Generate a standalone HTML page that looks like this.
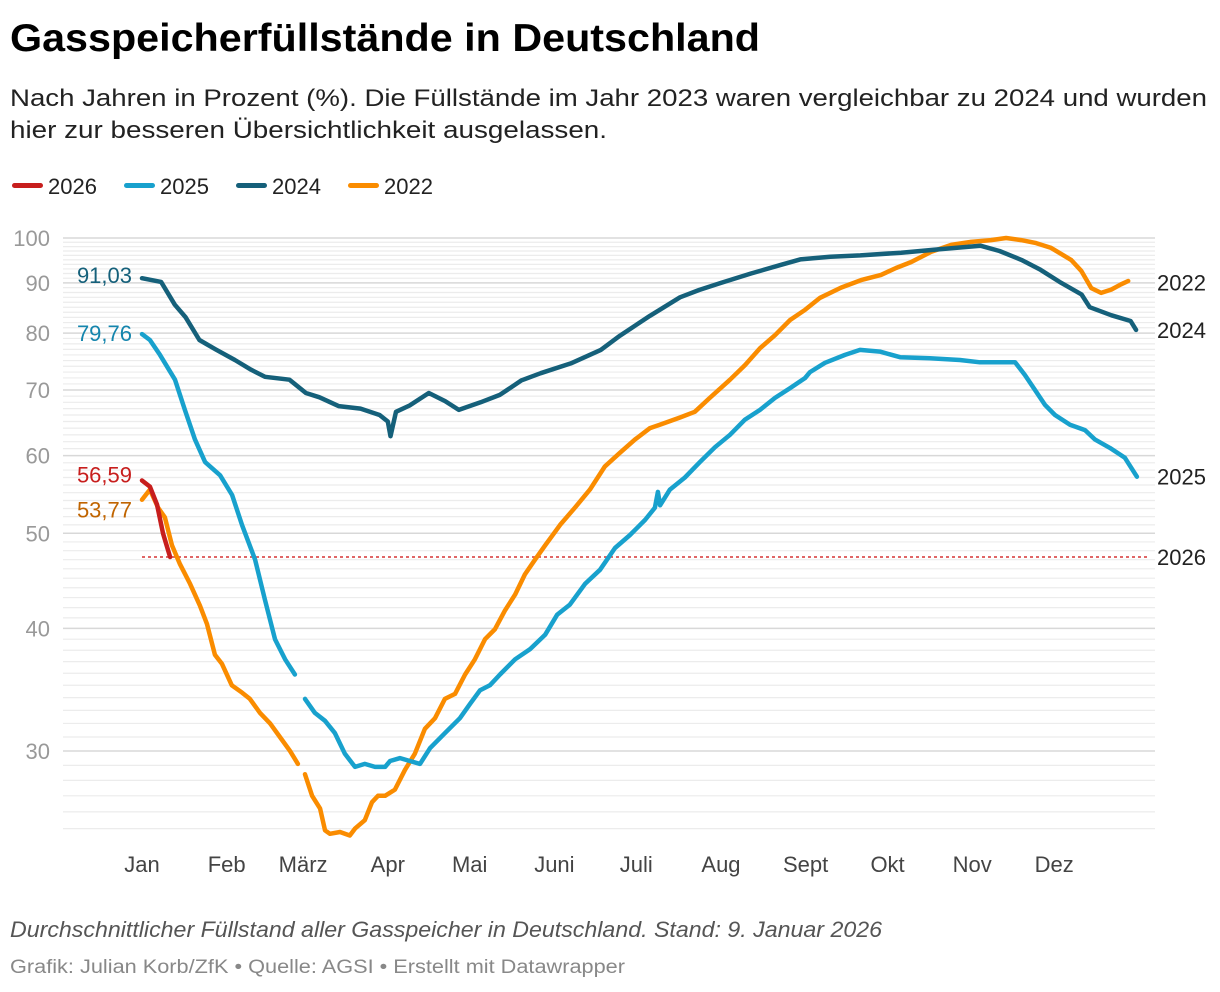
<!DOCTYPE html>
<html><head><meta charset="utf-8"><style>
html,body{margin:0;padding:0;background:#fff;}
svg{display:block;font-family:"Liberation Sans",sans-serif;}
</style></head><body>
<svg id="chart" width="1220" height="992" viewBox="0 0 1220 992">
<text x="10" y="51" font-size="39" font-weight="bold" fill="#000" textLength="750" lengthAdjust="spacingAndGlyphs">Gasspeicherfüllstände in Deutschland</text>
<text x="10" y="106" font-size="24" fill="#222" textLength="1197" lengthAdjust="spacingAndGlyphs">Nach Jahren in Prozent (%). Die Füllstände im Jahr 2023 waren vergleichbar zu 2024 und wurden</text>
<text x="10" y="138" font-size="24" fill="#222" textLength="597" lengthAdjust="spacingAndGlyphs">hier zur besseren Übersichtlichkeit ausgelassen.</text>
<g id="legend"></g>
<g id="grid"></g>
<g id="yaxis"></g>
<g id="xaxis"></g>
<g id="series"></g>
<g id="labels"></g>
<text x="10" y="937" font-size="22" font-style="italic" fill="#555" textLength="872" lengthAdjust="spacingAndGlyphs">Durchschnittlicher Füllstand aller Gasspeicher in Deutschland. Stand: 9. Januar 2026</text>
<text x="10" y="973" font-size="19" fill="#888" textLength="615" lengthAdjust="spacingAndGlyphs">Grafik: Julian Korb/ZfK • Quelle: AGSI • Erstellt mit Datawrapper</text>
</svg>
<script>
const yTicks = [100, 90, 80, 70, 60, 50, 40, 30];
const monthLabels = ["Jan","Feb","März","Apr","Mai","Juni","Juli","Aug","Sept","Okt","Nov","Dez"];
const monthStartDays = [0,31,59,90,120,151,181,212,243,273,304,334];
const seriesNames = ["2026","2025","2024","2022"];
const refLine2026 = 47.3;
const days2026 = [0,2.9,5.5,7.7,10.3];
const vals2026 = [56.6,55.8,53.5,50.0,47.3];
const days2025 = [0,2.9,6.6,12.1,15.7,19.4,23.1,28.6,33,36.6,41.4,45,48.7,52.4,56,58,59.7,63.3,67,70.6,74.3,78,81.6,85.3,89,90.8,94.5,98.1,101.8,105.5,111,116.4,120.1,123.8,127.4,131.1,136.6,142.1,147.6,152,156.7,162.2,167.7,173.2,178.7,184.2,187.8,188.9,189.7,193.3,198.8,204.3,209.8,215.3,220.8,226.3,231.8,237.3,242.8,244.6,250.1,257.4,262.9,270.2,277.6,288.5,299.5,306.8,314.2,319.7,323.3,327,330.6,334.3,339.8,345.3,349,354.4,359.9,364.3];
const vals2025 = [79.8,78.7,76.0,71.7,66.8,62.3,59.1,57.3,54.7,51.0,47.0,42.8,39.0,37.2,35.9,null,33.9,32.8,32.2,31.3,29.8,28.9,29.1,28.9,28.9,29.3,29.5,29.3,29.1,30.2,31.3,32.4,33.5,34.6,35.0,35.9,37.2,38.1,39.4,41.3,42.3,44.4,45.9,48.3,49.8,51.6,53.1,55.1,53.4,55.4,57.0,59.1,61.2,63.0,65.3,66.8,68.7,70.3,72.0,73.0,74.6,76.0,76.9,76.6,75.6,75.4,75.1,74.7,74.7,74.7,72.5,70.0,67.6,66.0,64.5,63.7,62.3,61.1,59.7,57.1];
const days2024 = [0,7,12,16,21,27,34,40,45,54,60,65,72,80,87,90,91,93,98,105,111,116,124,131,139,146,157,168,175,186,197,204,212,223,234,241,252,263,278,292,307,314,322,329,336,344,347,355,362,364];
const vals2024 = [91.0,90.2,85.5,83.0,78.7,77.0,75.1,73.4,72.2,71.7,69.5,68.8,67.4,67.0,66.0,65.0,62.8,66.5,67.5,69.5,68.2,66.8,68.0,69.2,71.6,72.8,74.5,76.9,79.5,83.3,87.0,88.5,90.0,92.0,93.9,95.1,95.7,96.0,96.6,97.4,98.2,97.0,95.0,92.8,90.2,87.6,85.0,83.4,82.3,80.6];
const days2022 = [0,2.9,5.9,8.4,11,13.9,17.6,21.2,23.8,26.7,29.3,32.9,36.6,39.5,43.2,46.9,50.5,54.2,57.1,58.5,59.7,62.3,65.2,67,68.8,72.5,76.1,78,81.6,84.2,86.4,89,92.6,96.3,99.9,103.6,107.3,110.9,114.6,118.3,121.9,125.6,129.2,132.9,136.6,140.2,143.9,147.6,153.1,158.5,164,169.5,175,180.5,186,189.6,196.9,202.4,207.9,215.3,220.8,226.3,231.8,237.3,242.8,248.3,256,263.3,270.6,276.1,281.6,288.9,296.3,303.6,310.9,316.4,321.9,327.4,332.9,340.2,343.9,347.6,351.2,354.9,358.5,361.1];
const vals2022 = [54.1,55.4,53.1,51.9,48.6,46.5,44.4,42.2,40.4,37.6,36.8,35.0,34.4,33.9,32.8,32.0,31.0,30.0,29.1,null,28.4,27.0,26.2,24.9,24.7,24.8,24.6,25.0,25.5,26.6,27.0,27.0,27.4,28.7,29.8,31.6,32.4,33.9,34.3,35.9,37.2,39.0,39.9,41.7,43.3,45.4,47.0,48.6,51.0,53.1,55.4,58.5,60.4,62.3,64.0,64.5,65.6,66.5,68.7,71.7,74.2,77.2,79.6,82.5,84.5,86.9,89.0,90.6,91.7,93.2,94.5,96.8,98.4,99.1,99.5,100,99.5,98.8,97.7,95.0,92.6,88.9,87.9,88.6,89.7,90.4];
const colors = {"2026":"#c71e1d","2025":"#18a1cd","2024":"#15607a","2022":"#fa8c00"};

const NS="http://www.w3.org/2000/svg";
const X0=142, PXD=2.731;
const x=d=>X0+d*PXD;
const y=v=>238+981*Math.log10(100/v);
function mk(tag,attrs,parent,txt){const e=document.createElementNS(NS,tag);for(const k in attrs)e.setAttribute(k,attrs[k]);if(txt!=null)e.textContent=txt;parent.appendChild(e);return e;}

const grid=document.getElementById('grid');
for(let v=25;v<=100;v++){
  const major=v%10===0;
  const ln=mk('line',{x1:63,x2:1155,y1:y(v),y2:y(v),stroke:major?'#d8d8d8':'#ececec','stroke-width':major?1.5:1.2},grid);
  
  
}
const ya=document.getElementById('yaxis');
yTicks.forEach(v=>{const t=mk('text',{x:50,y:y(v)+8,'text-anchor':'end','font-size':22,fill:'#999'},ya,String(v));
  
  });
const xa=document.getElementById('xaxis');
monthLabels.forEach((m,i)=>{const t=mk('text',{x:x(monthStartDays[i]),y:872,'text-anchor':'middle','font-size':22,fill:'#444'},xa,m);
  
  });

const ser=document.getElementById('series');
const ref=mk('line',{x1:142,x2:1148,y1:y(refLine2026),y2:y(refLine2026),stroke:'#d63333','stroke-width':1.5,'stroke-dasharray':'3,3'},ser);



function pathOf(days,vals){let d='',pen=false;for(let i=0;i<days.length;i++){if(vals[i]==null){pen=false;continue;}d+=(pen?'L':'M')+x(days[i]).toFixed(1)+','+y(vals[i]).toFixed(1);pen=true;}return d;}
const data={"2022":[days2022,vals2022],"2024":[days2024,vals2024],"2025":[days2025,vals2025],"2026":[days2026,vals2026]};
["2022","2024","2025","2026"].forEach(k=>{const p=mk('path',{d:pathOf(data[k][0],data[k][1]),fill:'none',stroke:colors[k],'stroke-width':4.5,'stroke-linejoin':'round','stroke-linecap':'round'},ser);
  
  });

const lb=document.getElementById('labels');
const startLbl=[["2024","91,03",vals2024[0],"#15607a",-3],["2025","79,76",vals2025[0],"#1485ad",-1],["2026","56,59",vals2026[0],"#c71e1d",-6],["2022","53,77",vals2022[0],"#c06400",10]];
startLbl.forEach(s=>{const t=mk('text',{x:132,y:y(s[2])+8+s[4],'text-anchor':'end','font-size':22,fill:s[3]},lb,s[1]);
  
  });
const endLbl=[["2022",vals2022[vals2022.length-1]-0.3],["2024",vals2024[vals2024.length-1]],["2025",vals2025[vals2025.length-1]],["2026",refLine2026]];
endLbl.forEach(s=>{const t=mk('text',{x:1157,y:y(s[1])+8,'font-size':22,fill:'#222'},lb,s[0]);
  
  });

const lg=document.getElementById('legend');
const lx=[12,124,236,348];
seriesNames.forEach((n,i)=>{
  const r=mk('rect',{x:lx[i],y:183,width:31,height:5,rx:2.5,fill:colors[n]},lg);
  
  
  const t=mk('text',{x:lx[i]+36,y:194,'font-size':22,fill:'#222'},lg,n);
  
  
});
</script>
</body></html>
